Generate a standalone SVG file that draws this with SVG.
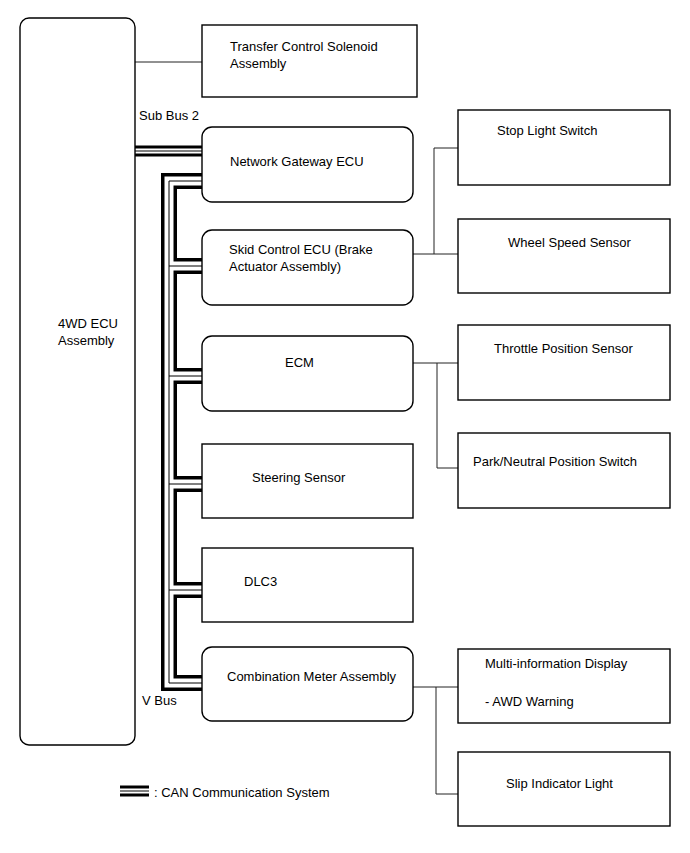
<svg xmlns="http://www.w3.org/2000/svg" width="690" height="853" viewBox="0 0 690 853">
<style>
.box{fill:#fff;stroke:#000;stroke-width:1.4}
.t{font-family:"Liberation Sans",Arial,sans-serif;font-size:13px;fill:#000}
.wire{fill:none;stroke:#222;stroke-width:1}
.canB{fill:none;stroke:#000;stroke-linejoin:miter}
.canW{fill:none;stroke:#fff;stroke-linejoin:miter}
.canC{fill:none;stroke:#000;stroke-width:1}
</style>
<rect width="690" height="853" fill="#fff"/>
<g id="connectors">
  <path class="wire" d="M135,62 H202"/>
  <path class="wire" d="M413,254 H458 M434,254 V148 H458"/>
  <path class="wire" d="M413,363 H458 M437,363 V468 H458"/>
  <path class="wire" d="M413,687 H458 M436,687 V794 H458"/>
  <g id="can-bus">
    <path class="canB" stroke-width="11" d="M135,151 H202"/>
    <path class="canB" stroke-width="16" d="M202,181 H169 V683 H202 M169,266 H202 M169,376 H202 M169,484 H202 M169,590 H202"/>
    <path class="canW" stroke-width="5" d="M135,151 H202"/>
    <path class="canW" stroke-width="9" d="M202,181 H169 V683 H202 M169,266 H202 M169,376 H202 M169,484 H202 M169,590 H202"/>
    <path class="canC" d="M135,151 H202"/>
    <path class="canC" d="M202,181 H169 V683 H202 M169,266 H202 M169,376 H202 M169,484 H202 M169,590 H202"/>
  </g>
</g>
<g id="ecu4wd"><rect class="box" x="20" y="18" width="115" height="727" rx="9"/><text class="t" x="58" y="328">4WD ECU</text><text class="t" x="58" y="345">Assembly</text></g>
<g id="transfer"><rect class="box" x="202" y="25" width="215" height="72"/><text class="t" x="230" y="51">Transfer Control Solenoid</text><text class="t" x="230" y="68">Assembly</text></g>
<g id="gateway"><rect class="box" x="202" y="127" width="211" height="75" rx="10"/><text class="t" x="230" y="166">Network Gateway ECU</text></g>
<g id="skid"><rect class="box" x="202" y="230" width="211" height="75" rx="10"/><text class="t" x="229" y="254">Skid Control ECU (Brake</text><text class="t" x="229" y="271">Actuator Assembly)</text></g>
<g id="ecm"><rect class="box" x="202" y="336" width="211" height="75" rx="10"/><text class="t" x="285" y="367">ECM</text></g>
<g id="steering"><rect class="box" x="202" y="444" width="211" height="74"/><text class="t" x="252" y="482">Steering Sensor</text></g>
<g id="dlc3"><rect class="box" x="202" y="548" width="211" height="74"/><text class="t" x="244" y="586">DLC3</text></g>
<g id="combination"><rect class="box" x="202" y="647" width="211" height="74" rx="10"/><text class="t" x="227" y="681">Combination Meter Assembly</text></g>
<g id="stoplight"><rect class="box" x="458" y="110" width="212" height="75"/><text class="t" x="497" y="135">Stop Light Switch</text></g>
<g id="wheelspeed"><rect class="box" x="458" y="219" width="212" height="74"/><text class="t" x="508" y="247">Wheel Speed Sensor</text></g>
<g id="throttle"><rect class="box" x="458" y="325" width="212" height="75"/><text class="t" x="494" y="353">Throttle Position Sensor</text></g>
<g id="parkneutral"><rect class="box" x="458" y="433" width="212" height="75"/><text class="t" x="473" y="466">Park/Neutral Position Switch</text></g>
<g id="multiinfo"><rect class="box" x="458" y="649" width="212" height="74"/><text class="t" x="485" y="668">Multi-information Display</text><text class="t" x="485" y="706">- AWD Warning</text></g>
<g id="slip"><rect class="box" x="458" y="752" width="212" height="74"/><text class="t" x="506" y="788">Slip Indicator Light</text></g>
<g id="labels">
  <text class="t" x="139" y="120">Sub Bus 2</text>
  <text class="t" x="142" y="705">V Bus</text>
</g>
<g id="legend">
  <path class="canB" stroke-width="11" d="M120,791 H149"/>
  <path class="canW" stroke-width="5" d="M120,791 H149"/>
  <path class="canC" d="M120,791 H149"/>
  <text class="t" x="154" y="797">: CAN Communication System</text>
</g>
</svg>
